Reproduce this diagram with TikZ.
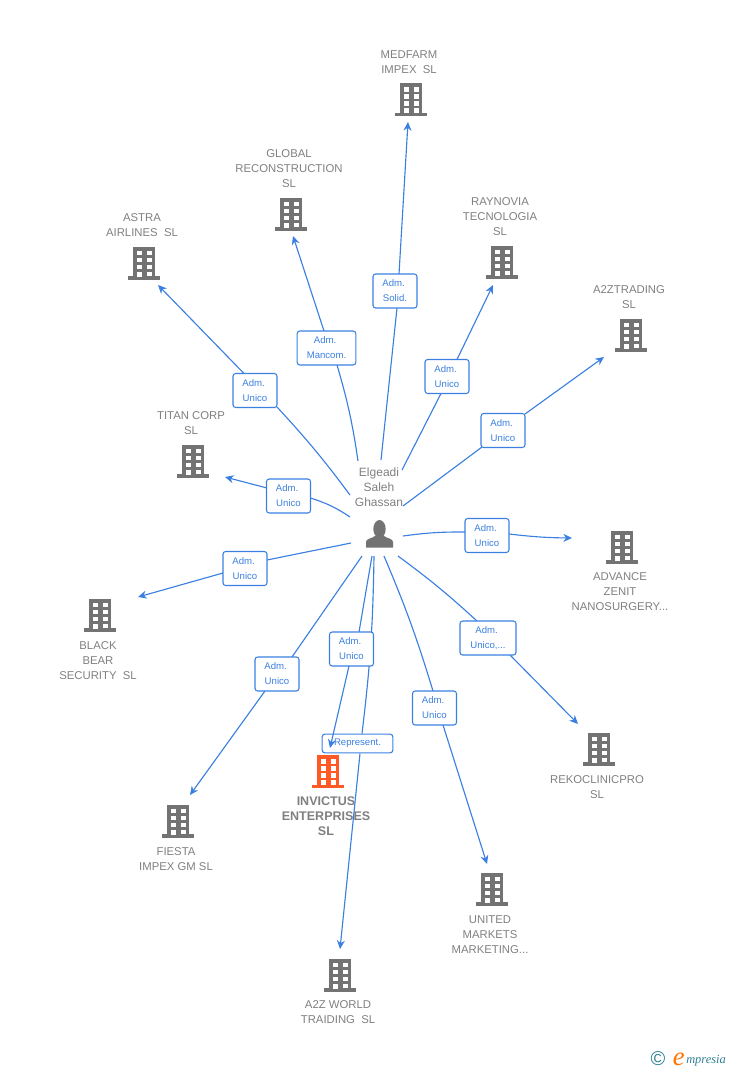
\documentclass[tikz,border=0pt]{standalone}
\usepackage{fontspec}
\setmainfont{Liberation Sans}
\newfontfamily\logofont{Liberation Serif}
\usetikzlibrary{arrows.meta,backgrounds}
\definecolor{linkblue}{HTML}{3B80E0}
\definecolor{labelgray}{HTML}{808080}
\definecolor{bldggray}{HTML}{737373}
\definecolor{bldgorange}{HTML}{FF5A26}
\definecolor{logoteal}{HTML}{2F7F93}
\newcommand{\admtxt}{Adm.~\mbox{}}
\tikzset{
        x=0.75pt, y=-0.75pt,
        link/.style={draw=linkblue, line width=0.85pt},
        linkarrow/.style={link, -{Stealth[length=6.5pt,width=6pt]}},
        adm/.style={draw=linkblue, fill=white, rounded corners=2pt, line width=0.8pt, inner sep=0pt, minimum height=25.5pt,
          minimum width=33pt, align=center, text=linkblue, font=\fontsize{7.2}{11.25}\selectfont},
        company/.style={align=center, inner sep=0pt, yshift=-0.75pt, text=labelgray, font=\fontsize{8.5}{11.25}\selectfont},
        mainco/.style={company, font=\fontsize{9.4}{11.25}\selectfont\bfseries},
        person/.style={align=center, inner sep=0pt, text=labelgray, font=\fontsize{9}{11.25}\selectfont},
        bldg/.style={minimum width=24pt, minimum height=25pt, inner sep=0pt, path picture={
          \begin{scope}[shift={(path picture bounding box.center)}]
            \fill[#1] (-11,-16.5) rectangle (11,14);
            \fill[#1] (-16,13) rectangle (16,16.5);
            \foreach \r in {-12.5,-5.5,1.5}
              \foreach \c in {-7.5,2.5}
                \fill[white] (\c,\r) rectangle ++(5,4.5);
            \fill[white] (2.5,8.5) rectangle ++(5,4.5);
            \fill[white] (-7.5,8.5) rectangle ++(5,5);
          \end{scope}}},
        bldg/.default=bldggray
          }
\begin{document}
\begin{tikzpicture}
  \useasboundingbox (0,0) rectangle (728,1070);
  % companies
  \node[bldg] (medfarm) at (411,100) {};
  \node[company] (medfarmtxt) at (409,61.5) {MEDFARM\\IMPEX\ \ SL};
  \node[bldg] (global) at (291,214) {};
  \node[company] (globaltxt) at (289,168) {GLOBAL\\RECONSTRUCTION\\SL};
  \node[bldg] (raynovia) at (502,262) {};
  \node[company] (raynoviatxt) at (500,216) {RAYNOVIA\\TECNOLOGIA\\SL};
  \node[bldg] (atrading) at (631,335) {};
  \node[company] (atradingtxt) at (629,296.5) {A2ZTRADING\\SL};
  \node[bldg] (astra) at (144,263) {};
  \node[company] (astratxt) at (142,224.5) {ASTRA\\AIRLINES\ \ SL};
  \node[bldg] (titan) at (193,461) {};
  \node[company] (titantxt) at (191,422.5) {TITAN CORP\\SL};
  \node[bldg] (advance) at (622,547) {};
  \node[company] (advancetxt) at (620,591) {ADVANCE\\ZENIT\\NANOSURGERY...};
  \node[bldg] (black) at (100,615) {};
  \node[company] (blacktxt) at (98,660) {BLACK\\BEAR\\SECURITY\ \ SL};
  \node[bldg] (rekoclinic) at (599,749) {};
  \node[company] (rekoclinictxt) at (597,786.5) {REKOCLINICPRO\\SL};
  \node[bldg] (united) at (492,889) {};
  \node[company] (unitedtxt) at (490,934) {UNITED\\MARKETS\\MARKETING...};
  \node[bldg] (aworld) at (340,975) {};
  \node[company] (aworldtxt) at (338,1011.5) {A2Z WORLD\\TRAIDING\ \ SL};
  \node[bldg] (fiesta) at (178,821) {};
  \node[company] (fiestatxt) at (176,858.5) {FIESTA\\IMPEX GM SL};
  \node[bldg=bldgorange] (invictus) at (328,771.5) {};
  \node[mainco] (invictustxt) at (326,815) {INVICTUS\\ENTERPRISES\\SL};
  % person
  \node[person] (ownertxt) at (379,487.5) {Elgeadi\\Saleh\\Ghassan};
  \node[minimum width=20.5pt, minimum height=20.5pt, inner sep=0pt] (owner) at (379.5,533.5) {};
  \fill[bldggray] (366,547.5) -- (366,542) .. controls (366,538.5) and (372,538.5) .. (375,536) -- (384,536)
    .. controls (387,538.5) and (393,538.5) .. (393,542) -- (393,547.5) -- cycle;
  \fill[bldggray] (379.5,529) ellipse (6.2 and 9);
  % labels
  \node[adm] (lmedfarm) at (395,291) {\admtxt\\Solid.};
  \node[adm, minimum width=44pt] (lglobal) at (326.5,348) {\admtxt\\Mancom.};
  \node[adm] (lraynovia) at (447,376.5) {\admtxt\\Unico};
  \node[adm] (latrading) at (503,430.5) {\admtxt\\Unico};
  \node[adm] (lastra) at (255,390.5) {\admtxt\\Unico};
  \node[adm] (ltitan) at (288.5,496) {\admtxt\\Unico};
  \node[adm] (lblack) at (245,568.5) {\admtxt\\Unico};
  \node[adm] (ladvance) at (487,535.5) {\admtxt\\Unico};
  \node[adm, minimum width=42pt] (lrekoclinic) at (488,638) {\admtxt\\Unico,...};
  \node[adm] (lunited) at (434.5,708) {\admtxt\\Unico};
  \node[adm] (lfiesta) at (277,674) {\admtxt\\Unico};
  \node[adm] (linvictus) at (351.5,649) {\admtxt\\Unico};
  \node[adm, minimum width=53pt, minimum height=14pt] (laworld) at (357.5,743.5) {Represent.};
  % free ends
  \coordinate (smedfarm) at (381,460);
  \coordinate (sglobal) at (358,461);
  \coordinate (sraynovia) at (402,470);
  \coordinate (satrading) at (403,506);
  \coordinate (sastra) at (350,495);
  \coordinate (stitan) at (350,517);
  \coordinate (sblack) at (351,543);
  \coordinate (sadvance) at (403,536);
  \coordinate (srekoclinic) at (398,556);
  \coordinate (sunited) at (384,556);
  \coordinate (saworld) at (374,556);
  \coordinate (sinvictus) at (372,556);
  \coordinate (sfiesta) at (362,556);
  \coordinate (emedfarm) at (408,122);
  \coordinate (eglobal) at (293,236);
  \coordinate (eraynovia) at (493,285);
  \coordinate (eatrading) at (604,357);
  \coordinate (eastra) at (158,285);
  \coordinate (etitan) at (225,477);
  \coordinate (eblack) at (138,597);
  \coordinate (eadvance) at (572,538);
  \coordinate (erekoclinic) at (578,724);
  \coordinate (eunited) at (487,864);
  \coordinate (eaworld) at (340,949);
  \coordinate (einvictus) at (330,748);
  \coordinate (efiesta) at (190,795);
  \begin{scope}[on background layer]
    \draw[link] (smedfarm) -- ([shift={(2,17)}]lmedfarm.center);
    \draw[linkarrow] ([shift={(4,-17)}]lmedfarm.center) -- (emedfarm);
    \draw[link] (sglobal) to[bend right=4] ([shift={(10.5,17)}]lglobal.center);
    \draw[linkarrow] ([shift={(-2.5,-17)}]lglobal.center) -- (eglobal);
    \draw[link] (sraynovia) -- ([shift={(-6,17)}]lraynovia.center);
    \draw[linkarrow] ([shift={(10,-17)}]lraynovia.center) -- (eraynovia);
    \draw[link] (satrading) -- ([shift={(-21,16.5)}]latrading.center);
    \draw[linkarrow] ([shift={(22,-16.5)}]latrading.center) -- (eatrading);
    \draw[link] (sastra) to[bend right=3] ([shift={(22,16.5)}]lastra.center);
    \draw[linkarrow] ([shift={(-11,-17)}]lastra.center) -- (eastra);
    \draw[link] (stitan) to[bend right=8] ([shift={(22,2)}]ltitan.center);
    \draw[linkarrow] ([shift={(-21.5,-8)}]ltitan.center) -- (etitan);
    \draw[link] (sblack) -- ([shift={(22,-8.5)}]lblack.center);
    \draw[linkarrow] ([shift={(-22,4.5)}]lblack.center) -- (eblack);
    \draw[link] (sadvance) to[bend left=4] ([shift={(-22,-3.5)}]ladvance.center);
    \draw[linkarrow] ([shift={(22,-1.5)}]ladvance.center) to[bend right=3] (eadvance);
    \draw[link] (srekoclinic) to[bend left=3] ([shift={(-11,-17)}]lrekoclinic.center);
    \draw[linkarrow] ([shift={(22,17)}]lrekoclinic.center) -- (erekoclinic);
    \draw[link] (sunited) to[bend left=3] ([shift={(-1.5,-17)}]lunited.center);
    \draw[linkarrow] ([shift={(8.5,17)}]lunited.center) -- (eunited);
    \draw[link] (saworld) to[bend left=3] ([shift={(4.5,-10)}]laworld.center);
    \draw[linkarrow] ([shift={(2.5,10)}]laworld.center) -- (eaworld);
    \draw[link] (sfiesta) -- ([shift={(15,-17)}]lfiesta.center);
    \draw[linkarrow] ([shift={(-12,17)}]lfiesta.center) -- (efiesta);
    \draw[link] (sinvictus) -- ([shift={(7.5,-17)}]linvictus.center);
  \end{scope}
  \draw[linkarrow] ([shift={(-2.5,17)}]linvictus.center) -- (einvictus);
  % logo
  \node[inner sep=0pt, text=logoteal, font=\fontsize{15}{15}\selectfont] (logoc) at (658,1059) {©};
  \node[inner sep=0pt, anchor=base west, text=logoteal, font=\logofont\itshape\fontsize{9.3}{11}\selectfont] (logotxt) at (686,1063) {mpresia};
  \node[inner sep=0pt, anchor=base east, text=orange!90!red, font=\logofont\itshape\fontsize{20}{20}\selectfont] (logoe) at (685,1065) {e};
\end{tikzpicture}
\end{document}
